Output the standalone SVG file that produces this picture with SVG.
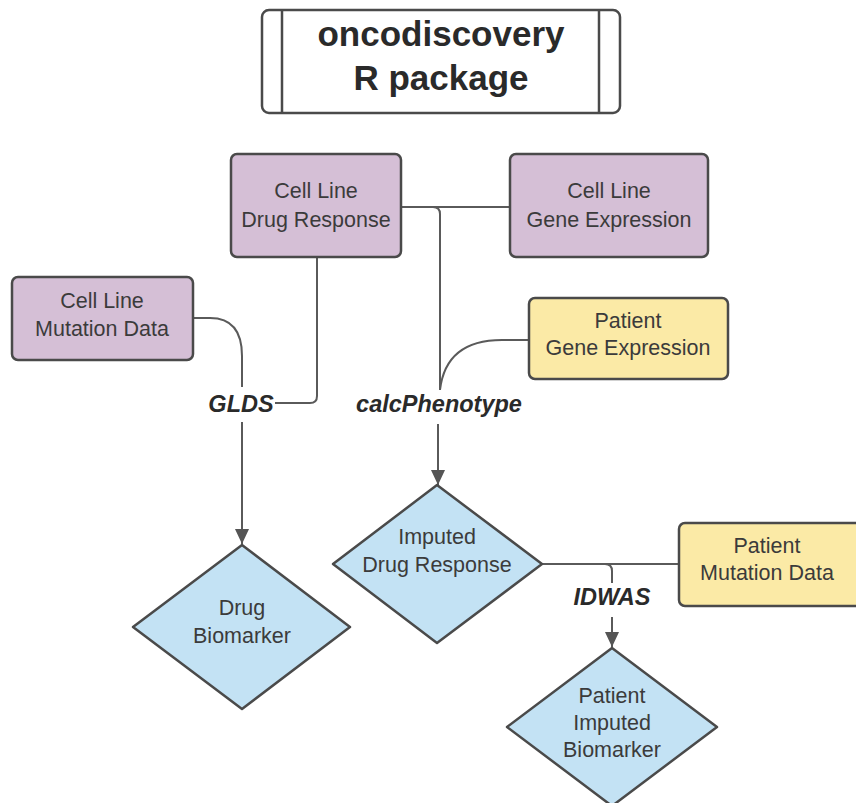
<svg xmlns="http://www.w3.org/2000/svg" width="856" height="803" viewBox="0 0 856 803">
<style>
.t{font-family:"Liberation Sans",Arial,sans-serif;font-size:21.5px;fill:#3b3b3b;text-anchor:middle}
.lbl{font-family:"Liberation Sans",Arial,sans-serif;font-size:23.5px;font-weight:bold;font-style:italic;fill:#2a2a2a;text-anchor:middle}
.title{font-family:"Liberation Sans",Arial,sans-serif;font-size:35px;font-weight:bold;fill:#2a2a2a;text-anchor:middle}
.purple{fill:#d5bfd6;stroke:#4a4a4a;stroke-width:2.5}
.yellow{fill:#fbeaa6;stroke:#4a4a4a;stroke-width:2.5}
.blue{fill:#c3e2f4;stroke:#4a4a4a;stroke-width:2.5;stroke-linejoin:round}
.c{fill:none;stroke:#5a5a5a;stroke-width:2}
</style>
<defs>
<marker id="ah" markerUnits="userSpaceOnUse" markerWidth="14" markerHeight="14" refX="15" refY="7" orient="auto">
<path d="M0,0 L15,7 L0,14 z" fill="#555"/>
</marker>
</defs>
<rect width="856" height="803" fill="#ffffff"/>
<g id="title">
<rect x="262" y="10" width="358" height="103" rx="7" fill="#fff" stroke="#4a4a4a" stroke-width="2.5"/>
<line x1="282" y1="10" x2="282" y2="113" stroke="#4a4a4a" stroke-width="2.5"/>
<line x1="599" y1="10" x2="599" y2="113" stroke="#4a4a4a" stroke-width="2.5"/>
<text class="title" x="441" y="46">oncodiscovery</text>
<text class="title" x="441" y="90">R package</text>
</g>
<g id="connectors">
<path class="c" d="M401,207 H510"/>
<path class="c" d="M433,207 Q440,207 440,214 V390"/>
<path class="c" d="M529,340 H502 C466,340 444,356 440,390"/>
<path class="c" d="M317,257 V396 Q317,403 310,403 H275"/>
<path class="c" d="M193,318 H210 C233,318 242,332 242,356 V387"/>
<path class="c" d="M242,422 V544" marker-end="url(#ah)"/>
<path class="c" d="M438,424 V485" marker-end="url(#ah)" stroke-width="2.5"/>
<path class="c" d="M542,564 H679"/>
<path class="c" d="M605,564 Q612,564 612,571 V583"/>
<path class="c" d="M612,617 V647" marker-end="url(#ah)"/>
<text class="lbl" x="241" y="412">GLDS</text>
<text class="lbl" x="439" y="412">calcPhenotype</text>
<text class="lbl" x="612" y="605">IDWAS</text>
</g>
<g id="cl-drug-response">
<rect class="purple" x="231" y="154" width="170" height="103" rx="6"/>
<text class="t" x="316" y="198">Cell Line</text>
<text class="t" x="316" y="227">Drug Response</text>
</g>
<g id="cl-gene-expression">
<rect class="purple" x="510" y="154" width="198" height="103" rx="6"/>
<text class="t" x="609" y="198">Cell Line</text>
<text class="t" x="609" y="227">Gene Expression</text>
</g>
<g id="cl-mutation-data">
<rect class="purple" x="12" y="277" width="181" height="83" rx="6"/>
<text class="t" x="102" y="308">Cell Line</text>
<text class="t" x="102" y="336">Mutation Data</text>
</g>
<g id="patient-gene-expression">
<rect class="yellow" x="529" y="298" width="199" height="81" rx="6"/>
<text class="t" x="628" y="328">Patient</text>
<text class="t" x="628" y="355">Gene Expression</text>
</g>
<g id="patient-mutation-data">
<rect class="yellow" x="679" y="523" width="185" height="83" rx="6"/>
<text class="t" x="767" y="553">Patient</text>
<text class="t" x="767" y="580">Mutation Data</text>
</g>
<g id="drug-biomarker">
<path class="blue" d="M242,545 L350,627 L242,709 L133,627 Z"/>
<text class="t" x="242" y="615">Drug</text>
<text class="t" x="242" y="643">Biomarker</text>
</g>
<g id="imputed-drug-response">
<path class="blue" d="M437,485 L542,564 L437,643 L333,564 Z"/>
<text class="t" x="437" y="544">Imputed</text>
<text class="t" x="437" y="572">Drug Response</text>
</g>
<g id="patient-imputed-biomarker">
<path class="blue" d="M612,648 L717,727 L612,806 L507,727 Z"/>
<text class="t" x="612" y="703">Patient</text>
<text class="t" x="612" y="730">Imputed</text>
<text class="t" x="612" y="757">Biomarker</text>
</g>
</svg>
